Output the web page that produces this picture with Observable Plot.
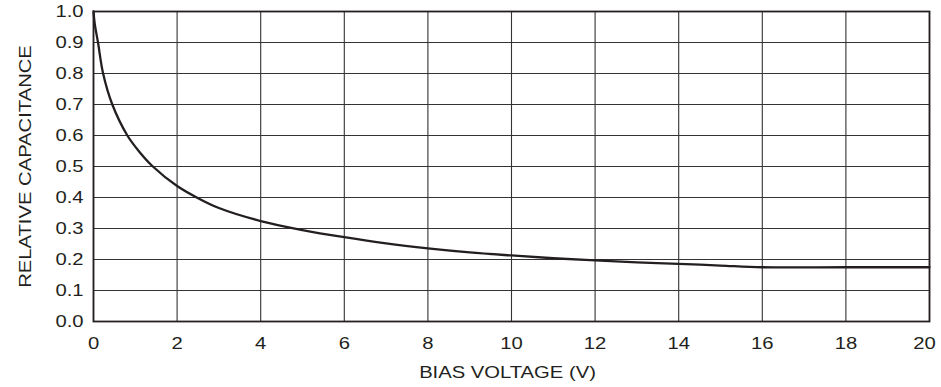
<!DOCTYPE html>
<html>
<head>
<meta charset="utf-8">
<script src="https://cdn.jsdelivr.net/npm/d3@7"></script>
<script src="https://cdn.jsdelivr.net/npm/@observablehq/plot@0.6"></script>
<style>
  html, body { margin: 0; padding: 0; background: #fff; }
  #chart svg { display: block; }
</style>
</head>
<body>
<div id="chart"></div>
<script>
// Bias voltage (V) and relative capacitance
const biasVoltage = [0, 0.03, 0.108, 0.23, 0.45, 0.81, 1.1, 1.42, 2.0, 2.47, 3.0, 4.0, 5.0, 6.0, 7.0, 8.0, 9.0, 10.0, 11.0, 12.0, 13.0, 14.0, 15.0, 16.0, 18.0, 20.0];
const relativeCapacitance = [1.0, 0.96, 0.9, 0.8, 0.7, 0.6, 0.547, 0.5, 0.437, 0.4, 0.366, 0.324, 0.295, 0.272, 0.252, 0.236, 0.223, 0.213, 0.204, 0.197, 0.191, 0.186, 0.1805, 0.175, 0.175, 0.175];
const xTicks = [0, 2, 4, 6, 8, 10, 12, 14, 16, 18, 20];
const yTicks = [0, 0.1, 0.2, 0.3, 0.4, 0.5, 0.6, 0.7, 0.8, 0.9, 1.0];
const xTitle = "BIAS VOLTAGE (V)";
const yTitle = "RELATIVE CAPACITANCE";

const data = biasVoltage.map((v, i) => ({v, c: relativeCapacitance[i]}));
const ink = "#231f20";

const chart = Plot.plot({
  width: 941,
  height: 387,
  marginLeft: 93,
  marginRight: 12,
  marginTop: 11,
  marginBottom: 66,
  style: {fontFamily: "'Liberation Sans', Arial, sans-serif", fontSize: "17px", color: ink, background: "#fff"},
  x: {domain: [0, 20]},
  y: {domain: [0, 1]},
  marks: [
    Plot.gridX(xTicks, {stroke: "#333", strokeOpacity: 1, strokeWidth: 1.1}),
    Plot.gridY(yTicks, {stroke: "#333", strokeOpacity: 1, strokeWidth: 1.1}),
    Plot.frame({stroke: ink, strokeWidth: 1.8}),
    Plot.line(data, {x: "v", y: "c", stroke: ink, strokeWidth: 2.3, curve: "catmull-rom"}),
    Plot.axisX({ticks: xTicks, tickSize: 0, tickPadding: 15, label: null, tickFormat: d => String(d), fill: ink}),
    Plot.axisY({ticks: yTicks, tickSize: 0, tickPadding: 10, label: null, tickFormat: d3.format(".1f"), fill: ink}),
    Plot.text([xTitle], {frameAnchor: "bottom", textAnchor: "middle", lineAnchor: "bottom", dy: 56, dx: -4, fill: ink}),
    Plot.text([yTitle], {frameAnchor: "left", textAnchor: "middle", lineAnchor: "bottom", rotate: -90, dx: -63, fill: ink})
  ]
});

// Widen glyphs horizontally to match the reference lettering
chart.querySelectorAll("text").forEach(t => {
  let tr = t.getAttribute("transform") || "";
  if (t.textContent === "20") tr = "translate(-5,0) " + tr;
  t.setAttribute("transform", (tr + " scale(1.19,1)").trim());
});

document.getElementById("chart").appendChild(chart);
</script>
</body>
</html>
